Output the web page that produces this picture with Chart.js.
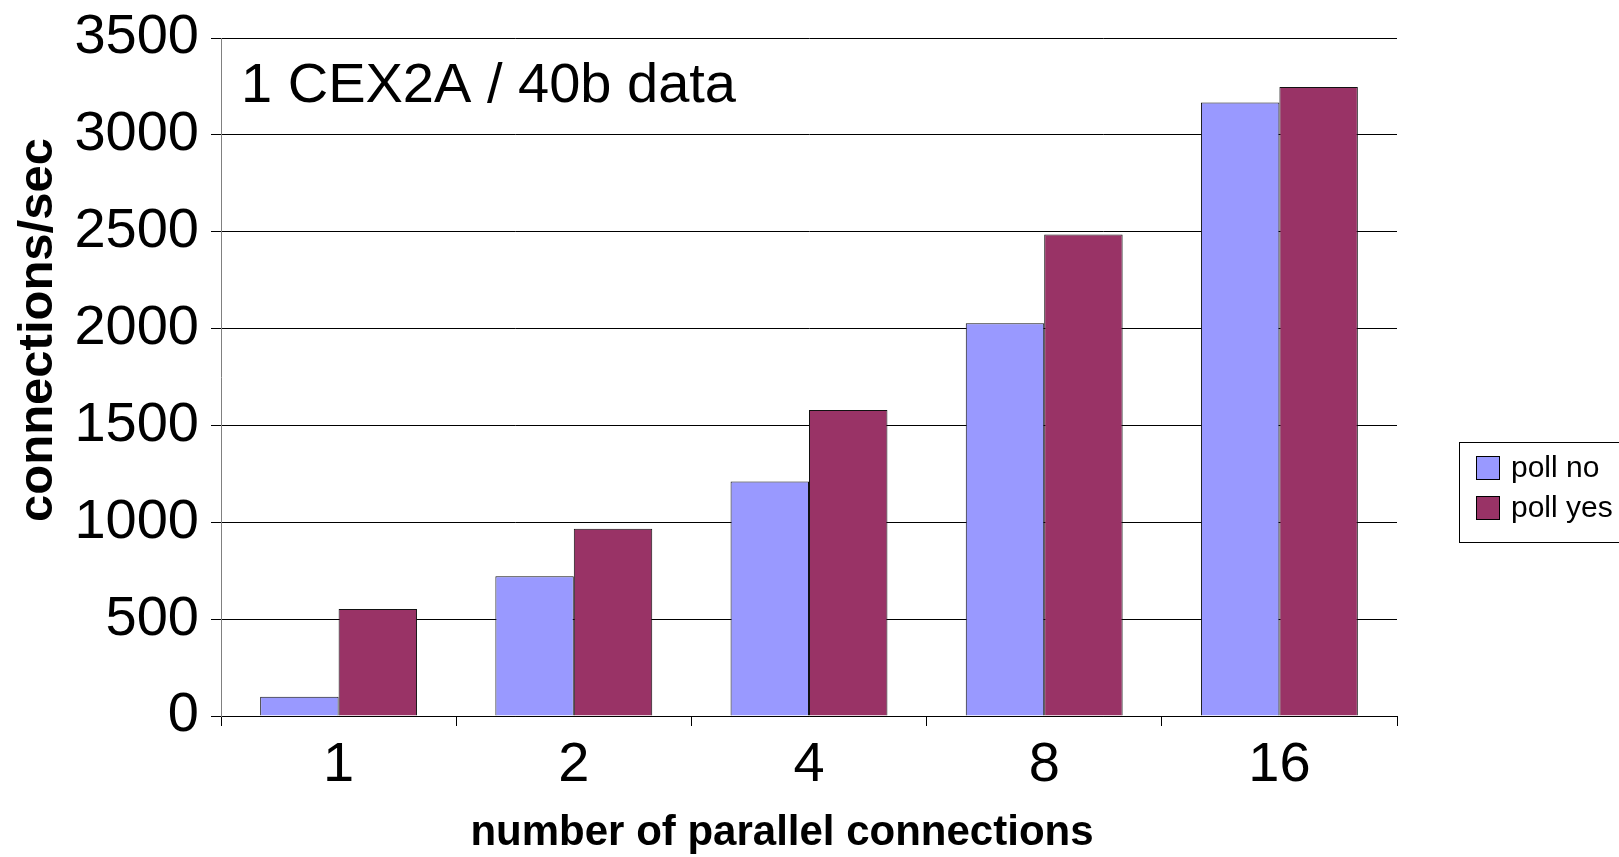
<!DOCTYPE html>
<html>
<head>
<meta charset="utf-8">
<script src="https://cdn.jsdelivr.net/npm/chart.js@4.4.1/dist/chart.umd.min.js"></script>
<style>
  html, body { margin: 0; padding: 0; background: #fff; }
  #wrap { width: 1619px; height: 857px; }
</style>
</head>
<body>
<div id="wrap"><canvas id="c" width="1619" height="857"></canvas></div>
<script>
// data
const categories = ['1', '2', '4', '8', '16'];
const pollNo = [100, 722, 1210, 2028, 3167];
const pollYes = [552, 967, 1580, 2485, 3247];
const yMin = 0, yMax = 3500, yStep = 500;

const chartNote = '1 CEX2A / 40b data';
const xTitle = 'number of parallel connections';
const yTitle = 'connections/sec';

const FONT = '"Liberation Sans", Arial, sans-serif';

// axis titles, inner note and the boxed legend, Excel style
const decorations = {
    id: 'decorations',
    afterDraw(chart) {
        const ctx = chart.ctx;
        const area = chart.chartArea;
        ctx.save();
        ctx.fillStyle = '#000';

        ctx.font = '56px ' + FONT;
        ctx.textAlign = 'left';
        ctx.textBaseline = 'alphabetic';
        ctx.fillText(chartNote, area.left + 20, 102);

        ctx.font = 'bold 42px ' + FONT;
        ctx.textAlign = 'center';
        ctx.fillText(xTitle, 782, 845);

        ctx.save();
        ctx.translate(52, 330);
        ctx.rotate(-Math.PI / 2);
        ctx.font = 'bold 49px ' + FONT;
        ctx.fillText(yTitle, 0, 0);
        ctx.restore();

        // legend
        ctx.strokeStyle = '#000';
        ctx.lineWidth = 1;
        ctx.strokeRect(1459.5, 442.5, 200, 100);
        ctx.font = '30px ' + FONT;
        ctx.textAlign = 'left';
        ctx.textBaseline = 'middle';
        chart.data.datasets.forEach((ds, i) => {
            const y = 456 + i * 40;
            ctx.fillStyle = ds.backgroundColor;
            ctx.fillRect(1476, y, 24, 24);
            ctx.strokeRect(1476.5, y + 0.5, 23, 23);
            ctx.fillStyle = '#000';
            ctx.fillText(ds.label, 1511, y + 13);
        });
        ctx.restore();
    }
};

new Chart(document.getElementById('c'), {
    type: 'bar',
    data: {
        labels: categories,
        datasets: [
            { label: 'poll no', data: pollNo, backgroundColor: '#9999FF', borderColor: '#111', borderWidth: 1 },
            { label: 'poll yes', data: pollYes, backgroundColor: '#993366', borderColor: '#111', borderWidth: 1 }
        ]
    },
    options: {
        responsive: false,
        animation: false,
        devicePixelRatio: 1,
        layout: { padding: { top: 38, right: 222, left: 0, bottom: 0 } },
        datasets: { bar: { categoryPercentage: 0.667, barPercentage: 1.0 } },
        plugins: {
            legend: { display: false },
            tooltip: { enabled: false }
        },
        scales: {
            x: {
                grid: { drawOnChartArea: false, drawTicks: true, tickLength: 10, color: '#000', offset: true },
                border: { color: '#000', width: 1 },
                ticks: { color: '#000', font: { family: FONT, size: 56 }, padding: 6, maxRotation: 0 },
                afterFit(scale) { scale.height = 141; }
            },
            y: {
                min: yMin,
                max: yMax,
                grid: { color: '#000', tickLength: 10 },
                border: { color: '#808080', width: 1 },
                ticks: {
                    stepSize: yStep,
                    color: '#000',
                    font: { family: FONT, size: 56, lineHeight: 0.9 },
                    padding: 12,
                    callback: v => String(v)
                },
                afterFit(scale) { scale.width = 221; }
            }
        }
    },
    plugins: [decorations]
});
</script>
</body>
</html>
